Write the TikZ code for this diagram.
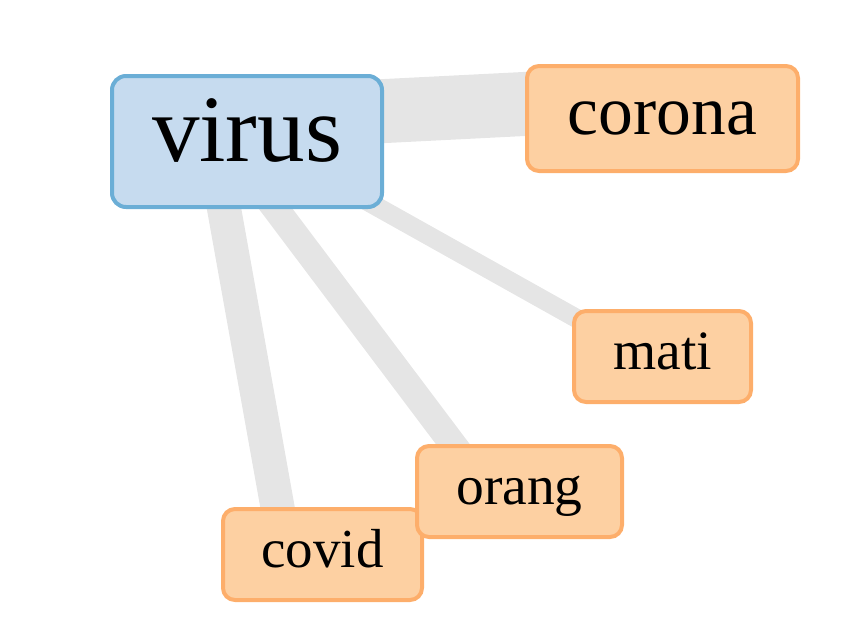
\documentclass[tikz,border=0pt]{standalone}
\usepackage{fontspec}
\setmainfont{Liberation Serif}
\usetikzlibrary{calc}
\definecolor{vfill}{HTML}{C6DBEF}
\definecolor{vline}{HTML}{6BAED6}
\definecolor{ofill}{HTML}{FDD0A2}
\definecolor{oline}{HTML}{FDAE6B}
\definecolor{edgegray}{HTML}{E5E5E5}
\pgfdeclarelayer{background}
\pgfsetlayers{background,main}
\begin{document}
\begin{tikzpicture}[x=1pt,y=-1pt,
  edge/.style={draw=edgegray,line cap=butt},
  hub/.style={draw=vline,fill=vfill,line width=4pt,rounded corners=14pt,inner sep=0pt},
  leaf/.style={draw=oline,fill=ofill,line width=4pt,rounded corners=12pt,inner sep=0pt}]
\useasboundingbox (0,0) rectangle (867,624);
\node[hub,minimum width=270pt,minimum height=131pt] (virus) at (247,141.5)
  {\fontsize{95}{102}\selectfont\strut virus};
\node[leaf,minimum width=271pt,minimum height=105pt] (corona) at (662.5,118.5)
  {\fontsize{69.5}{82}\selectfont\strut corona};
\node[leaf,minimum width=177pt,minimum height=91pt] (mati) at (662.5,356.5)
  {\fontsize{55.5}{67}\selectfont\strut mati};
\node[leaf,minimum width=199pt,minimum height=91pt] (covid) at (322.5,554.5)
  {\fontsize{55}{67}\selectfont\strut covid};
\node[leaf,minimum width=205pt,minimum height=91pt] (orang) at (519.5,491.5)
  {\fontsize{55.5}{67}\selectfont\strut orang};
\begin{pgfonlayer}{background}
\draw[edge,line width=64pt] ($(virus.center)+(0,-23.5)$) -- ($(corona.center)+(0,-21.5)$);
\draw[edge,line width=19pt] ($(virus.center)+(0,-7.5)$) -- ($(mati.center)+(0,10)$);
\draw[edge,line width=27pt] ($(virus.center)+(-22,0)$) -- ($(orang.center)+(-31,0)$);
\draw[edge,line width=34pt] ($(virus.center)+(-35,0)$) -- ($(covid.center)+(-36.5,0)$);
\end{pgfonlayer}
\end{tikzpicture}
\end{document}
